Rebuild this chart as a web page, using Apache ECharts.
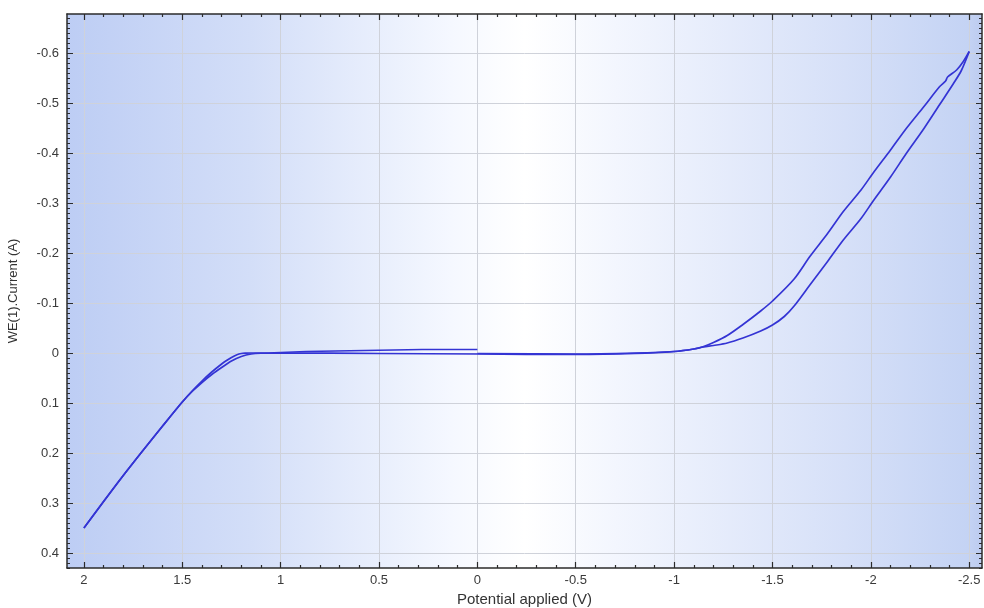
<!DOCTYPE html>
<html>
<head>
<meta charset="utf-8">
<script src="https://cdn.jsdelivr.net/npm/echarts@6/dist/echarts.min.js"></script>
<style>
html,body{margin:0;padding:0;background:#fff;}
#chart{width:984px;height:608px;}
</style>
</head>
<body>
<div id="chart"></div>
<script>
// ---- data ----
// scan 1a: start at 0 V, small current steps while moving positive
const scan1aPotential = [0, 0.28, 0.28, 0.87, 0.87, 1.0];
const scan1aCurrent   = [-0.007, -0.007, -0.003, -0.003, -0.001, -0.001];
// scan 1b: continuing to +2 V
const scan1bPotential = [1.0, 1.1, 1.15, 1.175, 1.2, 1.225, 1.25, 1.275, 1.3, 1.35, 1.4, 1.45, 1.5, 1.6, 1.7, 1.8, 1.9, 2.0];
const scan1bCurrent   = [-0.001, 0, 0, 0.0003, 0.001, 0.004, 0.009, 0.015, 0.022, 0.038, 0.056, 0.076, 0.098, 0.146, 0.195, 0.245, 0.297, 0.35];
// scan 2: +2 V -> -2.5 V
const scan2Potential = [2.0, 1.9, 1.8, 1.7, 1.6, 1.5, 1.45, 1.4, 1.35, 1.3, 1.25, 1.2, 1.15, 1.1, 1.0, 0.5, 0, -0.5, -0.8, -1.0, -1.1, -1.15, -1.2, -1.27, -1.35, -1.44, -1.5, -1.56, -1.61, -1.69, -1.78, -1.86, -1.95, -2.01, -2.10, -2.18, -2.27, -2.35, -2.42, -2.46, -2.5];
const scan2Current   = [0.35, 0.297, 0.245, 0.195, 0.146, 0.098, 0.077, 0.059, 0.043, 0.029, 0.016, 0.007, 0.002, 0.0005, 0, 0.001, 0.002, 0.003, 0.001, -0.003, -0.008, -0.012, -0.015, -0.02, -0.03, -0.044, -0.056, -0.073, -0.094, -0.136, -0.183, -0.226, -0.269, -0.303, -0.352, -0.399, -0.449, -0.497, -0.539, -0.565, -0.603];
// scan 3: -2.5 V -> 0 V
const scan3Potential = [-2.5, -2.47, -2.436, -2.39, -2.38, -2.35, -2.27, -2.18, -2.10, -2.01, -1.95, -1.86, -1.78, -1.69, -1.61, -1.5, -1.44, -1.35, -1.27, -1.2, -1.15, -1.1, -1.0, -0.8, -0.5, 0];
const scan3Current   = [-0.603, -0.583, -0.566, -0.552, -0.544, -0.533, -0.493, -0.449, -0.406, -0.359, -0.326, -0.283, -0.239, -0.193, -0.148, -0.104, -0.084, -0.057, -0.035, -0.021, -0.013, -0.008, -0.003, 0, 0.002, 0.001];

// ---- tick labels ----
const xMajorTicks = [2, 1.5, 1, 0.5, 0, -0.5, -1, -1.5, -2, -2.5];
const yMajorTicks = [-0.6, -0.5, -0.4, -0.3, -0.2, -0.1, 0, 0.1, 0.2, 0.3, 0.4];

const X_MIN = -2.565, X_MAX = 2.086;
const Y_MIN = -0.678, Y_MAX = 0.43;

function minorTicks(lo, hi, step, majors) {
  const out = [];
  const n0 = Math.ceil(lo / step - 1e-9), n1 = Math.floor(hi / step + 1e-9);
  for (let n = n0; n <= n1; n++) {
    const v = +(n * step).toFixed(4);
    if (!majors.some(m => Math.abs(m - v) < 1e-6)) out.push(v);
  }
  return out;
}
const xMinorTicks = minorTicks(X_MIN, X_MAX, 0.1, xMajorTicks);
const yMinorTicks = minorTicks(Y_MIN, Y_MAX, 0.01, yMajorTicks);

function pairs(xs, ys) { return xs.map((x, i) => [x, ys[i]]); }

const lineCol = '#2b2b2b';
const fontFam = 'Liberation Sans, Arial, sans-serif';
const labelStyle = { color: '#3a3a3a', fontSize: 13, fontFamily: fontFam };

function xAx(pos, major, withLabels) {
  return {
    type: 'value', position: pos, inverse: true, min: X_MIN, max: X_MAX,
    axisLine: { show: major, onZero: false, lineStyle: { color: lineCol, width: 1.5 } },
    axisTick: { show: true, inside: true, length: major ? 6 : 3, customValues: major ? xMajorTicks : xMinorTicks, lineStyle: { color: lineCol, width: 1.2 } },
    axisLabel: withLabels ? Object.assign({ show: true, customValues: xMajorTicks, margin: 6 }, labelStyle) : { show: false },
    splitLine: { show: withLabels, lineStyle: { color: '#cfd2da', width: 1 } },
    name: withLabels ? 'Potential applied (V)' : '',
    nameLocation: 'middle', nameGap: 24,
    nameTextStyle: { color: '#333', fontSize: 15, fontFamily: fontFam }
  };
}
function yAx(pos, major, withLabels) {
  return {
    type: 'value', position: pos, inverse: true, min: Y_MIN, max: Y_MAX,
    axisLine: { show: major, onZero: false, lineStyle: { color: lineCol, width: 1.5 } },
    axisTick: { show: true, inside: true, length: major ? 6 : 3, customValues: major ? yMajorTicks : yMinorTicks, lineStyle: { color: lineCol, width: 1 } },
    axisLabel: withLabels ? Object.assign({ show: true, customValues: yMajorTicks, margin: 8 }, labelStyle) : { show: false },
    splitLine: { show: withLabels, lineStyle: { color: '#cfd2da', width: 1 } },
    name: withLabels ? 'WE(1).Current (A)' : '',
    nameLocation: 'middle', nameGap: 47, nameRotate: 90,
    nameTextStyle: { color: '#333', fontSize: 13, fontFamily: fontFam }
  };
}

const curveStyle = { color: '#3434d4', width: 1.7 };
function curveSeries(xs, ys, smooth) {
  return {
    type: 'line', xAxisIndex: 0, yAxisIndex: 0,
    data: pairs(xs, ys), showSymbol: false, smooth: smooth,
    lineStyle: curveStyle, itemStyle: { color: curveStyle.color }
  };
}

const chart = echarts.init(document.getElementById('chart'), null, { renderer: 'canvas' });
chart.setOption({
  animation: false,
  backgroundColor: '#ffffff',
  grid: {
    left: 67, top: 14, right: 2, bottom: 40, containLabel: false, outerBoundsMode: 'none',
    show: true, borderWidth: 0,
    backgroundColor: {
      type: 'linear', x: 0, y: 0, x2: 1, y2: 0,
      colorStops: [
        { offset: 0, color: '#bdcdf4' },
        { offset: 0.2, color: '#d3def8' },
        { offset: 0.42, color: '#f5f8ff' },
        { offset: 0.5, color: '#ffffff' },
        { offset: 0.6, color: '#f3f6fe' },
        { offset: 0.85, color: '#d6e0f8' },
        { offset: 0.985, color: '#c4d3f4' },
        { offset: 1, color: '#bccbef' }
      ]
    }
  },
  xAxis: [xAx('bottom', true, true), xAx('bottom', false, false), xAx('top', true, false), xAx('top', false, false)],
  yAxis: [yAx('left', true, true), yAx('left', false, false), yAx('right', true, false), yAx('right', false, false)],
  series: [
    curveSeries(scan1aPotential, scan1aCurrent, false),
    curveSeries(scan1bPotential, scan1bCurrent, 0.3),
    curveSeries(scan2Potential, scan2Current, 0.3),
    curveSeries(scan3Potential, scan3Current, 0.3)
  ]
});
</script>
</body>
</html>
